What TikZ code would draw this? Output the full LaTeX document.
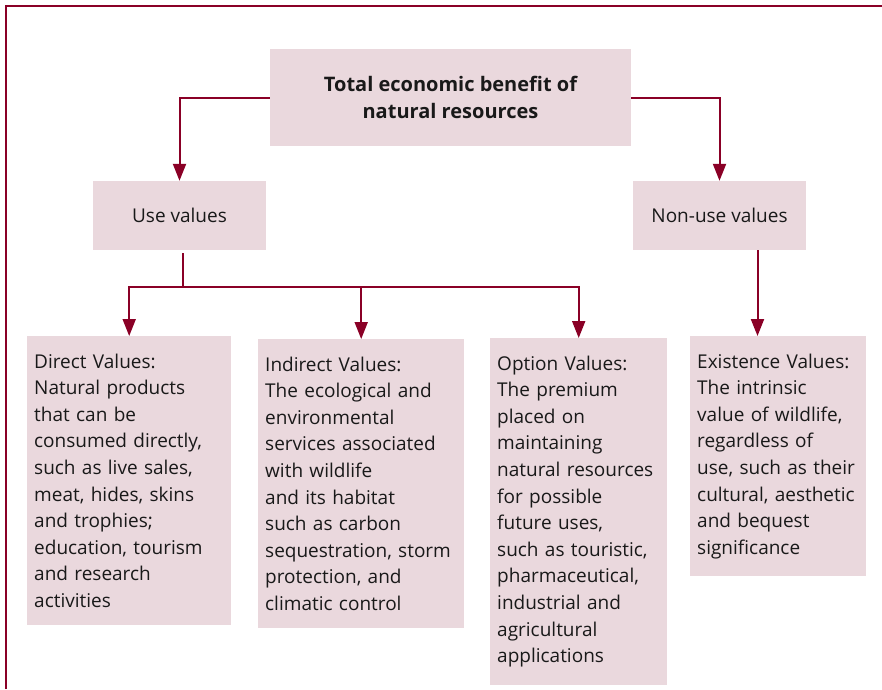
\documentclass[tikz,border=0pt]{standalone}
\usepackage{fontspec}
\setmainfont{Open Sans}
\usetikzlibrary{arrows.meta}
\definecolor{wine}{RGB}{138,0,38}
\definecolor{rose}{RGB}{234,216,221}
\newcommand{\boxfont}{\fontsize{19pt}{26.6pt}\selectfont}

\begin{document}
\begin{tikzpicture}[x=1pt,y=-1pt,>={Triangle[length=17pt,width=13pt]},
  box/.style={fill=rose,inner sep=0pt,text=black!90,font=\boxfont},
  valuebox/.style={box,anchor=north west,align=left,inner xsep=7pt,inner ysep=17.5pt},
  link/.style={draw=wine,line width=2pt}]
\useasboundingbox (0,0) rectangle (882,689);
\draw[wine,line width=2pt] (5.5,689) -- (5.5,5.5) -- (882,5.5);

\node[box,minimum width=361pt,minimum height=97pt,align=center,font=\fontsize{20pt}{26.6pt}\selectfont\bfseries](total) at (450.5,97.5) {Total economic benefit of\\natural resources};
\node[box,minimum width=173pt,minimum height=69pt](use) at (179.5,215.5) {Use values};
\node[box,minimum width=173pt,minimum height=69pt](nonuse) at (719.5,215.5) {Non-use values};

\node[valuebox,text width=190pt](direct) at (27,336) {Direct Values:\\Natural products\\that can be\\consumed directly,\\such as live sales,\\meat, hides, skins\\and trophies;\\education, tourism\\and research\\activities};
\node[valuebox,text width=192pt](indirect) at (258,339) {Indirect Values:\\The ecological and\\environmental\\services associated\\with wildlife\\and its habitat\\such as carbon\\sequestration, storm\\protection, and\\climatic control};
\node[valuebox,text width=163pt](option) at (490,338) {Option Values:\\The premium\\placed on\\maintaining\\natural resources\\for possible\\future uses,\\such as touristic,\\pharmaceutical,\\industrial and\\agricultural\\applications};
\node[valuebox,text width=162pt](existence) at (690,336) {Existence Values:\\The intrinsic\\value of wildlife,\\regardless of\\use, such as their\\cultural, aesthetic\\and bequest\\significance};

\coordinate (bus) at (183,287);

\draw[link,->] (total.west) -| (use.north);
\draw[link,->] (total.east) -| (nonuse.north);
\draw[link] ([xshift=3.5pt,yshift=-3pt]use.south) -- (bus);
\draw[link,->] (bus) -| (direct.north);
\draw[link,->] (bus) -| (indirect.north);
\draw[link,->] (bus) -| (option.north);
\draw[link,->] ([xshift=38pt]nonuse.south) -- ([xshift=38pt]nonuse.south |- existence.north);
\end{tikzpicture}
\end{document}
